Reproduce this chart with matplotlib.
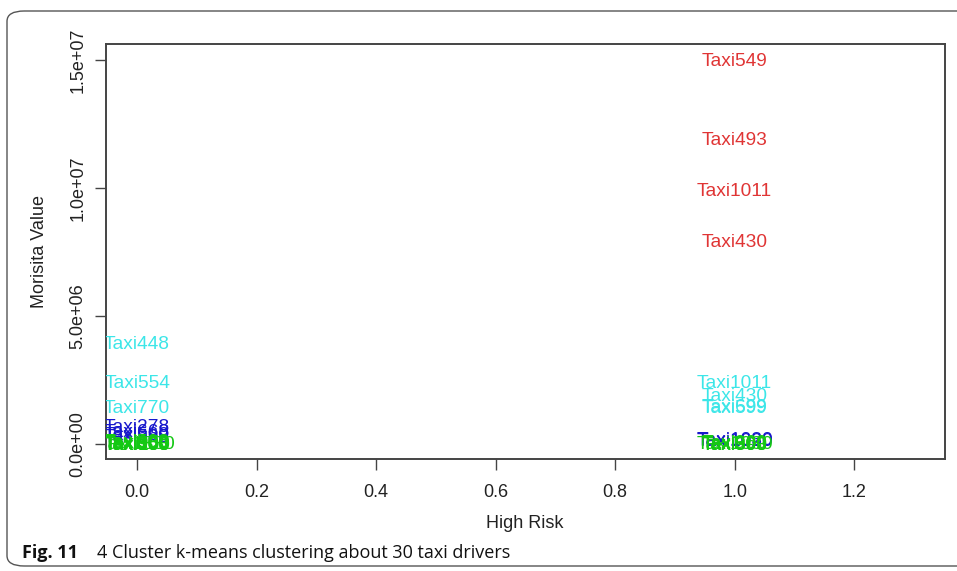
import matplotlib
matplotlib.use("Agg")
import matplotlib.pyplot as plt
from matplotlib.patches import FancyBboxPatch

# ---- data ----
red_names = ["Taxi549", "Taxi493", "Taxi1011", "Taxi430"]
red_x = [1, 1, 1, 1]
red_y = [15.0e6, 11.95e6, 9.95e6, 7.95e6]

cyan_names = ["Taxi448", "Taxi554", "Taxi770", "Taxi1011", "Taxi430", "Taxi699", "Taxi599"]
cyan_x = [0, 0, 0, 1, 1, 1, 1]
cyan_y = [3.95e6, 2.46e6, 1.45e6, 2.46e6, 1.95e6, 1.52e6, 1.47e6]

blue_names = ["Taxi278", "Taxi668", "Taxi560", "Taxi588", "Taxi1030", "Taxi1020"]
blue_x = [0, 0, 0, 0, 1, 1]
blue_y = [0.72e6, 0.52e6, 0.42e6, 0.33e6, 0.20e6, 0.18e6]

green_names = ["Taxi508", "Taxi950", "Taxi600", "Taxi1330", "Taxi880", "Taxi100",
               "Taxi800", "Taxi308", "Taxi960", "Taxi1030", "Taxi500", "Taxi390", "Taxi903"]
green_x = [0, 0, 0, 0, 0, 0, 0, 0, 1, 1, 1, 1, 1]
green_y = [0.12e6, 0.10e6, 0.08e6, 0.06e6, 0.05e6, 0.03e6, 0.02e6, 0.0e6,
           0.08e6, 0.06e6, 0.04e6, 0.02e6, 0.0e6]

x_ticks = [0.0, 0.2, 0.4, 0.6, 0.8, 1.0, 1.2]
x_ticklabels = ["0.0", "0.2", "0.4", "0.6", "0.8", "1.0", "1.2"]
y_ticks = [0, 5e6, 10e6, 15e6]
y_ticklabels = ["0.0e+00", "5.0e+06", "1.0e+07", "1.5e+07"]

W, H = 957, 571
fig = plt.figure(figsize=(W / 100, H / 100), dpi=100)
plt.rcParams['font.family'] = ['Liberation Sans', 'DejaVu Sans']

# frame around the figure
frame = FancyBboxPatch((7 / W, 5 / H), (975 - 7) / W, (566 - 11) / H,
                       boxstyle="round,pad=0,rounding_size=0.018",
                       transform=fig.transFigure, fill=False,
                       edgecolor="#555555", linewidth=1.0, clip_on=False)
fig.patches.append(frame)

ax = fig.add_axes([106 / W, 1 - 459 / H, (945 - 106) / W, (459 - 44) / H])
ax.set_xlim(-0.052, 1.352)
ax.set_ylim(-0.586e6, 15.625e6)

fs = 13
lfs = 13.8
for names, xs, ys, col in [(red_names, red_x, red_y, "#E03535"),
                           (cyan_names, cyan_x, cyan_y, "#3CE6E8"),
                           (blue_names, blue_x, blue_y, "#1818CC"),
                           (green_names, green_x, green_y, "#14C814")]:
    for n, xv, yv in zip(names, xs, ys):
        ax.text(xv, yv, n, color=col, fontsize=lfs, ha="center",
                va="center_baseline", clip_on=True)

ax.set_xticks(x_ticks)
ax.set_xticklabels(x_ticklabels)
ax.set_yticks(y_ticks)
ax.set_yticklabels(y_ticklabels, rotation=90, va="center")
ax.tick_params(axis="both", direction="out", length=8, width=1.0,
               color="#444444", labelsize=fs, labelcolor="#222222")
ax.tick_params(axis="x", pad=10)
ax.tick_params(axis="y", pad=6)
for s in ax.spines.values():
    s.set_color("#444444")
    s.set_linewidth(1.4)

fig.text(525 / W, 1 - 523 / H, "High Risk", ha="center", va="center",
         fontsize=fs, color="#222222")
fig.text(39 / W, 1 - 251 / H, "Morisita Value", ha="center", va="center",
         rotation=90, fontsize=fs, color="#222222")

fig.text(22 / W, 1 - 553 / H, "Fig. 11", ha="left", va="center",
         fontsize=13, fontweight="bold", family="Open Sans", color="#111111")
fig.text(97 / W, 1 - 553 / H, "4 Cluster k-means clustering about 30 taxi drivers",
         ha="left", va="center", fontsize=13, family="Open Sans", color="#111111")

fig.savefig("out.png", dpi=100)
